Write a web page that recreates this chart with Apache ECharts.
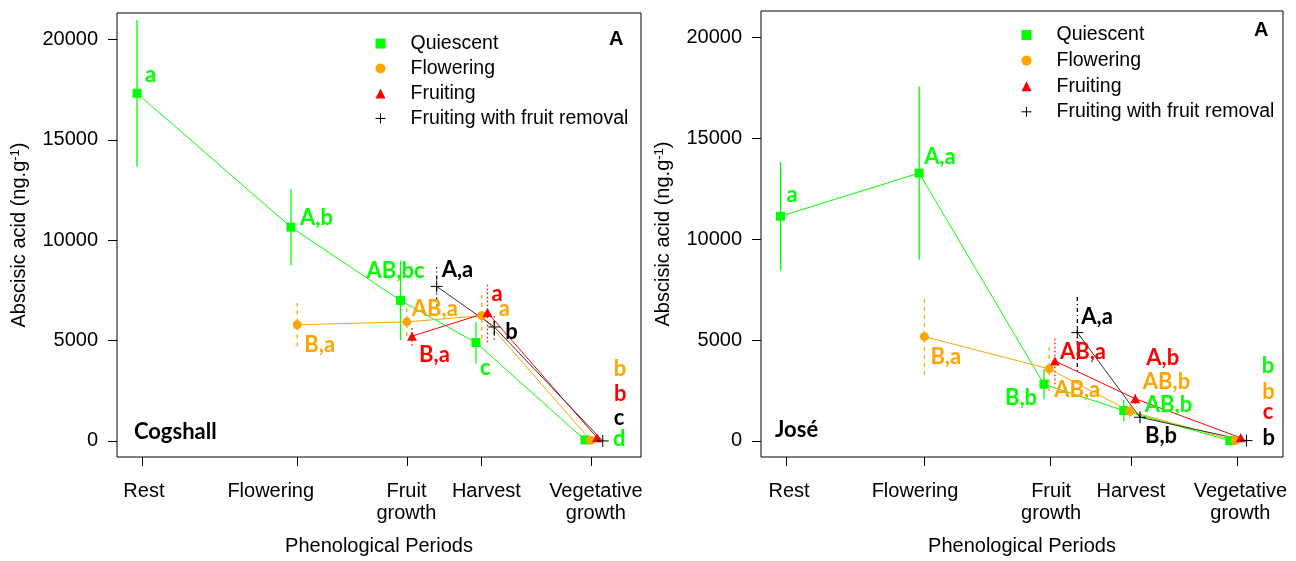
<!DOCTYPE html>
<html>
<head>
<meta charset="utf-8">
<script src="https://cdn.jsdelivr.net/npm/echarts@6/dist/echarts.min.js"></script>
<style>
  html, body { margin: 0; padding: 0; background: #fff; }
  #chart { width: 1296px; height: 561px; }
</style>
</head>
<body>
<div id="chart"></div>
<script>
// Phenological periods along the x axis and the four tree groups
const periods = ['Rest', 'Flowering', 'Fruit\ngrowth', 'Harvest', 'Vegetative\ngrowth'];
const groups = ['Quiescent', 'Flowering', 'Fruiting', 'Fruiting with fruit removal'];
const yTicks = [0, 5000, 10000, 15000, 20000];

// ---- Cogshall ----
// positions on the period timeline (0-100)
const cogTickPos = [4.91, 34.4, 55.33, 69.6, 90.5];
const cogLabelPos = [5.14, 29.34, 55.24, 70.49, 91.38];
const cogQuiescentX = [3.82, 33.2, 54.1, 68.5, 89.3];
const cogFloweringX = [34.4, 55.3, 69.6, 90.4];
const cogFruitingX = [56.3, 70.7, 91.6];
const cogRemovalX = [61.0, 72.0, 92.7];
// ABA mean (ng.g-1) and standard deviation
const cogQuiescent = [17320, 10650, 7000, 4900, 50];
const cogQuiescentSd = [3650, 1900, 1980, 1030, 0];
const cogFlowering = [5790, 5930, 6240, 30];
const cogFloweringSd = [1080, 700, 1150, 0];
const cogFruiting = [5220, 6400, 160];
const cogFruitingSd = [480, 1480, 0];
const cogRemoval = [7700, 5680, 0];
const cogRemovalSd = [950, 620, 0];
// significance letters
const cogQuiescentLetters = ['a', 'A,b', 'AB,bc', 'c', 'd'];
const cogFloweringLetters = ['B,a', 'AB,a', 'a', 'b'];
const cogFruitingLetters = ['B,a', 'a', 'b'];
const cogRemovalLetters = ['A,a', 'b', 'c'];

// ---- José ----
const joseTickPos = [4.76, 31.28, 55.39, 70.87, 91.2];
const joseLabelPos = [5.37, 29.5, 55.58, 70.87, 91.83];
const joseQuiescentX = [3.74, 30.3, 54.2, 69.5, 89.8];
const joseFloweringX = [31.3, 55.2, 70.65, 90.85];
const joseFruitingX = [56.3, 71.7, 91.9];
const joseRemovalX = [60.6, 72.6, 93.0];
const joseQuiescent = [11140, 13280, 2810, 1500, 15];
const joseQuiescentSd = [2700, 4300, 740, 530, 0];
const joseFlowering = [5170, 3570, 1470, 15];
const joseFloweringSd = [1900, 1100, 300, 0];
const joseFruiting = [3960, 2090, 150];
const joseFruitingSd = [1150, 250, 0];
const joseRemoval = [5370, 1170, 15];
const joseRemovalSd = [1900, 200, 0];
const joseQuiescentLetters = ['a', 'A,a', 'B,b', 'AB,b', 'b'];
const joseFloweringLetters = ['B,a', 'AB,a', 'AB,b', 'b'];
const joseFruitingLetters = ['AB,a', 'A,b', 'c'];
const joseRemovalLetters = ['A,a', 'B,b', 'b'];

// ---- styling ----
const axisFont = "'Liberation Sans', Arial, sans-serif";
const letterFont = "Lato, 'Noto Sans', sans-serif";
const groupColors = ['#00ff00', '#ffa500', '#ff0000', '#000000'];
const lineColors = ['#00ff00', '#ffa500', '#ff0000', '#333333'];
const PLUS = 'path://M0,6H12M6,0V12';
const groupSymbols = ['rect', 'circle', 'triangle', PLUS];
const groupSymbolSizes = [[9, 9], 9, [10, 9], 12];
const barDash = ['solid', [4, 4], [1.5, 2.5], [1, 3, 4, 3]];

// letter placement relative to each point (pixels: dx to left edge, dy to text middle)
const cogLetterShift = [
  [[8, -18], [9, -9], [-34, -30], [4, 25], [28, -1]],
  [[7, 20], [5, -13], [17, -7], [23, -71]],
  [[7, 19], [4, -19], [17, -44]],
  [[5, -16], [11, 5], [11, -23]]
];
const joseLetterShift = [
  [[6, -21], [5, -16], [-39, 14], [21, -6], [32, -75]],
  [[6, 20], [5, 21], [13, -29], [27, -49]],
  [[5, -9], [11, -41], [22, -26]],
  [[4, -16], [5, 19], [16, -3]]
];

const panels = [
  {
    name: 'Cogshall', tickPos: cogTickPos, labelPos: cogLabelPos,
    xs: [cogQuiescentX, cogFloweringX, cogFruitingX, cogRemovalX],
    ys: [cogQuiescent, cogFlowering, cogFruiting, cogRemoval],
    sds: [cogQuiescentSd, cogFloweringSd, cogFruitingSd, cogRemovalSd],
    letters: [cogQuiescentLetters, cogFloweringLetters, cogFruitingLetters, cogRemovalLetters],
    shift: cogLetterShift,
    grid: { left: 117, top: 13, width: 524, height: 448 },
    legend: { left: 375, top: 33.5, gap: 5 },
    tag: { x: 609, y: 41 }, title: { x: 134, y: 434 }
  },
  {
    name: 'José', tickPos: joseTickPos, labelPos: joseLabelPos,
    xs: [joseQuiescentX, joseFloweringX, joseFruitingX, joseRemovalX],
    ys: [joseQuiescent, joseFlowering, joseFruiting, joseRemoval],
    sds: [joseQuiescentSd, joseFloweringSd, joseFruitingSd, joseRemovalSd],
    letters: [joseQuiescentLetters, joseFloweringLetters, joseFruitingLetters, joseRemovalLetters],
    shift: joseLetterShift,
    grid: { left: 761, top: 11, width: 522, height: 448 },
    legend: { left: 1021, top: 25, gap: 5.6 },
    tag: { x: 1254, y: 32 }, title: { x: 775, y: 432 }
  }
];

const grids = [], xAxes = [], yAxes = [], series = [], legends = [], graphics = [];

panels.forEach((p, pi) => {
  grids.push(Object.assign({ show: true, borderColor: '#000', borderWidth: 1, backgroundColor: 'transparent' }, p.grid));

  // tick marks at the sampling periods
  xAxes.push({
    gridIndex: pi, type: 'value', min: 0, max: 100, position: 'bottom',
    axisLine: { show: false, onZero: false }, splitLine: { show: false },
    axisTick: { show: true, inside: false, length: 9, customValues: p.tickPos, lineStyle: { color: '#000', width: 1 } },
    axisLabel: { show: false },
    name: 'Phenological Periods', nameLocation: 'middle', nameGap: 79,
    nameTextStyle: { fontFamily: axisFont, fontSize: 20, color: '#000' }
  });
  // period names
  xAxes.push({
    gridIndex: pi, type: 'value', min: 0, max: 100, position: 'bottom',
    axisLine: { show: false, onZero: false }, splitLine: { show: false }, axisTick: { show: false },
    axisLabel: {
      customValues: p.labelPos, margin: 23, lineHeight: 22,
      fontFamily: axisFont, fontSize: 20, color: '#000',
      formatter: v => {
        let best = 0;
        p.labelPos.forEach((q, i) => { if (Math.abs(q - v) < Math.abs(p.labelPos[best] - v)) best = i; });
        return periods[best];
      }
    }
  });
  yAxes.push({
    gridIndex: pi, type: 'value', min: -800, max: 21320,
    axisLine: { show: false, onZero: false }, splitLine: { show: false },
    axisTick: { show: true, inside: false, length: 9, customValues: yTicks, lineStyle: { color: '#000', width: 1 } },
    axisLabel: {
      customValues: yTicks, margin: 19, fontFamily: axisFont, fontSize: 20, color: '#000',
      formatter: v => String(Math.round(v))
    },
    name: 'Abscisic acid (ng.g{s|-1})', nameLocation: 'middle', nameGap: 88,
    nameTextStyle: {
      fontFamily: axisFont, fontSize: 20, color: '#000',
      rich: { s: { fontFamily: axisFont, fontSize: 13, color: '#000', verticalAlign: 'top' } }
    }
  });

  groups.forEach((g, gi) => {
    const xs = p.xs[gi], ys = p.ys[gi], sds = p.sds[gi];
    // error bars (mean +/- sd)
    series.push({
      type: 'custom', name: g, xAxisIndex: pi * 2, yAxisIndex: pi, z: 1, silent: true,
      data: xs.map((x, i) => [x, ys[i] - sds[i], ys[i] + sds[i]]).filter(d => d[2] > d[1]),
      renderItem: (params, api) => {
        const a = api.coord([api.value(0), api.value(1)]);
        const b = api.coord([api.value(0), api.value(2)]);
        return {
          type: 'line',
          shape: { x1: a[0], y1: a[1], x2: b[0], y2: b[1] },
          style: { stroke: groupColors[gi], lineWidth: 1.3, lineDash: barDash[gi] }
        };
      }
    });
    // means joined across periods, with letters
    series.push({
      type: 'line', name: g, xAxisIndex: pi * 2, yAxisIndex: pi, z: 3,
      symbol: groupSymbols[gi], symbolSize: groupSymbolSizes[gi],
      showAllSymbol: true,
      lineStyle: { color: lineColors[gi], width: 1 },
      itemStyle: gi === 3
        ? { color: '#000', borderColor: '#000', borderWidth: 1 }
        : { color: groupColors[gi], borderWidth: 0 },
      emphasis: { disabled: true },
      data: xs.map((x, i) => ({
        value: [x, ys[i]],
        label: {
          show: true, position: 'inside', offset: p.shift[gi][i],
          align: 'left', verticalAlign: 'middle',
          formatter: p.letters[gi][i],
          fontFamily: letterFont, fontWeight: 'bold', fontSize: 22,
          color: groupColors[gi]
        }
      }))
    });
  });

  legends.push({
    left: p.legend.left, top: p.legend.top, orient: 'vertical', padding: 0,
    itemWidth: 10, itemHeight: 10, itemGap: p.legend.gap, selectedMode: false,
    textStyle: { fontFamily: axisFont, fontSize: 19.5, color: '#000', lineHeight: 20, padding: [0, 0, 0, 20] },
    data: groups.map((g, gi) => ({
      name: g, icon: groupSymbols[gi],
      itemStyle: gi === 3
        ? { color: '#000', borderColor: '#000', borderWidth: 1 }
        : { color: groupColors[gi], borderWidth: 0 }
    }))
  });

  graphics.push({
    type: 'text', left: p.tag.x, top: p.tag.y - 12,
    style: { text: 'A', font: "bold 20px 'Liberation Sans', Arial, sans-serif", fill: '#000' }
  });
  graphics.push({
    type: 'text', left: p.title.x, top: p.title.y - 13,
    style: { text: p.name, font: "bold 22px Lato, 'Noto Sans', sans-serif", fill: '#000' }
  });
});

const chart = echarts.init(document.getElementById('chart'), null, { renderer: 'canvas' });
chart.setOption({
  animation: false,
  backgroundColor: '#fff',
  grid: grids, xAxis: xAxes, yAxis: yAxes,
  legend: legends, series: series, graphic: graphics
});
</script>
</body>
</html>
